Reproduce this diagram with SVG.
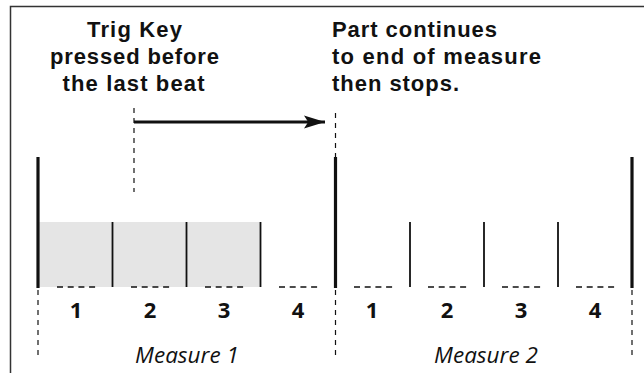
<svg xmlns="http://www.w3.org/2000/svg" width="644" height="373" viewBox="0 0 644 373">
<defs>
<style>
.frame{fill:none;stroke:#333;stroke-width:1.5}
.bar{stroke:#111;stroke-width:3.2}
.beat{stroke:#111;stroke-width:1.8}
.dash{stroke:#111;stroke-width:1.2;stroke-dasharray:5 5;fill:none}
.hdash{stroke:#111;stroke-width:1.5;stroke-dasharray:6 4.7}
.title{font-family:"Liberation Sans","Open Sans",sans-serif;font-weight:bold;font-size:22px;fill:#111}
.num{font-family:"Open Sans","Liberation Sans",sans-serif;font-weight:bold;font-size:22px;fill:#111;text-anchor:middle}
.meas{font-family:"Open Sans","Liberation Sans",sans-serif;font-style:italic;font-size:22.5px;fill:#111;text-anchor:middle}
</style>
<marker id="ah" markerWidth="7" markerHeight="4.4" refX="7" refY="2.2" orient="auto" markerUnits="strokeWidth">
<path d="M0,0 L7,2.2 L0,4.4 L1.4,2.2 Z" fill="#111"/>
</marker>
</defs>
<rect width="644" height="373" fill="#fff"/>
<path class="frame" d="M10.5,373 V6.5 H644"/>

<g id="label-trig">
<text class="title" text-anchor="middle" x="134.5" y="37" textLength="95" lengthAdjust="spacing">Trig Key</text>
<text class="title" text-anchor="middle" x="134.5" y="64" textLength="169" lengthAdjust="spacing">pressed before</text>
<text class="title" text-anchor="middle" x="133.5" y="91" textLength="142" lengthAdjust="spacing">the last beat</text>
</g>
<g id="label-part">
<text class="title" x="332" y="37" textLength="165" lengthAdjust="spacing">Part continues</text>
<text class="title" x="332" y="64" textLength="209" lengthAdjust="spacing">to end of measure</text>
<text class="title" x="332" y="91" textLength="127" lengthAdjust="spacing">then stops.</text>
</g>

<g id="measure1">
<rect x="38" y="222" width="223" height="65" fill="#e5e5e5"/>
<line class="beat" x1="112.5" y1="222" x2="112.5" y2="287"/>
<line class="beat" x1="186.5" y1="222" x2="186.5" y2="287"/>
<line class="beat" x1="260.5" y1="222" x2="260.5" y2="287"/>
<line class="hdash" x1="57" y1="287" x2="96" y2="287"/>
<line class="hdash" x1="131" y1="287" x2="170" y2="287"/>
<line class="hdash" x1="205" y1="287" x2="244" y2="287"/>
<line class="hdash" x1="279" y1="287" x2="318" y2="287"/>
<text class="num" x="76" y="318">1</text>
<text class="num" x="150" y="318">2</text>
<text class="num" x="224" y="318">3</text>
<text class="num" x="298" y="318">4</text>
<text class="meas" x="187" y="363">Measure 1</text>
</g>

<g id="measure2">
<line class="beat" x1="410" y1="222" x2="410" y2="287"/>
<line class="beat" x1="484" y1="222" x2="484" y2="287"/>
<line class="beat" x1="558" y1="222" x2="558" y2="287"/>
<line class="hdash" x1="354" y1="287" x2="393" y2="287"/>
<line class="hdash" x1="428" y1="287" x2="467" y2="287"/>
<line class="hdash" x1="502" y1="287" x2="541" y2="287"/>
<line class="hdash" x1="576" y1="287" x2="615" y2="287"/>
<text class="num" x="372" y="318">1</text>
<text class="num" x="447" y="318">2</text>
<text class="num" x="521" y="318">3</text>
<text class="num" x="595" y="318">4</text>
<text class="meas" x="486" y="363">Measure 2</text>
</g>

<g id="barlines">
<line class="bar" x1="38" y1="157" x2="38" y2="288"/>
<line class="bar" x1="335.5" y1="157" x2="335.5" y2="288"/>
<line class="bar" x1="632" y1="157" x2="632" y2="288"/>
</g>

<g id="connectors">
<line class="dash" x1="134" y1="108" x2="134" y2="192"/>
<line class="dash" x1="335.5" y1="113" x2="335.5" y2="157"/>
<line class="dash" x1="38" y1="290" x2="38" y2="360"/>
<line class="dash" x1="335.5" y1="290" x2="335.5" y2="360"/>
<line class="dash" x1="632" y1="290" x2="632" y2="360"/>
<line x1="134" y1="122" x2="325" y2="122" stroke="#111" stroke-width="3" marker-end="url(#ah)"/>
</g>
</svg>
